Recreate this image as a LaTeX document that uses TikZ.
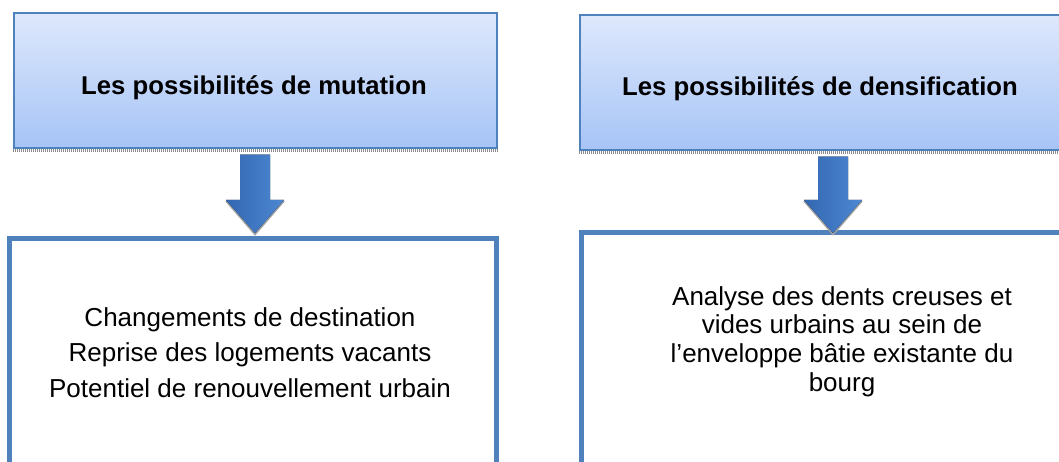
\documentclass[tikz,border=0pt]{standalone}
\usepackage{fontspec}
\setmainfont{Liberation Sans}
\usetikzlibrary{calc}
\definecolor{boxline}{HTML}{4F81BD}
\definecolor{gradtop}{HTML}{DEE8FC}
\definecolor{gradbot}{HTML}{A6C4F6}
\definecolor{arrowL}{HTML}{3467B2}
\definecolor{arrowR}{HTML}{4D88D2}
\definecolor{shadowgray}{HTML}{8C8C8C}
\tikzset{
  titlebox/.style={draw=boxline, line width=2.5pt, top color=gradtop, bottom color=gradbot,
    inner sep=0pt, minimum width=483pt, minimum height=135pt},
  bodybox/.style={draw=boxline, line width=5pt, fill=white, inner sep=0pt},
  titletext/.style={font=\bfseries\fontsize{25.7}{30}\selectfont, inner sep=0pt, anchor=base},
  bodytext/.style={font=\fontsize{26}{#1}\selectfont, align=center, inner sep=0pt},
  boxshadow/.style={draw=shadowgray, line width=3pt, dash pattern=on 1pt off 1pt},
  arrowshape/.style={left color=arrowL, right color=arrowR, draw=none},
  arrowshadow/.style={draw=shadowgray!80, line width=1.6pt}
}
\begin{document}
\begin{tikzpicture}[x=1pt, y=-1pt]
\useasboundingbox (0,0) rectangle (1059,462);
\fill[white] (0,0) rectangle (1059,462);

% bottom boxes
\node[bodybox, minimum width=487pt, minimum height=260pt] (botL) at (252.5,369) {};
\node[bodybox, minimum width=489pt, minimum height=260pt] (botR) at (825.5,363) {};

% top boxes
\node[titlebox] (topL) at (255.5,80.5) {};
\node[titlebox, minimum width=484pt] (topR) at (822,82.5) {};
\path[boxshadow] ($(topL.south west)+(0,1.5)$) -- ($(topL.south east)+(0,1.5)$);
\path[boxshadow] ($(topR.south west)+(0,1.5)$) -- ($(topR.south east)+(0,1.5)$);

% titles
\node[titletext] (titleL) at (254,94.5) {Les possibilités de mutation};
\node[titletext] (titleR) at (820,95.5) {Les possibilités de densification};

% body texts
\node[bodytext=35.7] (textL) at (250,352.5) {Changements de destination\\Reprise des logements vacants\\Potentiel de renouvellement urbain};
\node[bodytext=28.8] (textR) at (842,341.5) {Analyse des dents creuses et\\vides urbains au sein de\\l’enveloppe bâtie existante du\\bourg};

% arrows
\coordinate (tipL) at (255,233);
\coordinate (tipR) at (833,233);
\foreach \t/\tip in {topL/tipL, topR/tipR}{
  \draw[arrowshadow] ($(\tip)+(-29,-32)$) -- ($(\tip)+(0,1.5)$) -- ($(\tip)+(29,-32)$);
  \fill[arrowshape] ($(\t.south -| \tip)+(-15,5.5)$) -- ($(\t.south -| \tip)+(15,5.5)$)
    -- ($(\tip)+(15,-33)$) -- ($(\tip)+(29,-33)$) -- (\tip) -- ($(\tip)+(-29,-33)$)
    -- ($(\tip)+(-15,-33)$) -- cycle;
}
\end{tikzpicture}
\end{document}
